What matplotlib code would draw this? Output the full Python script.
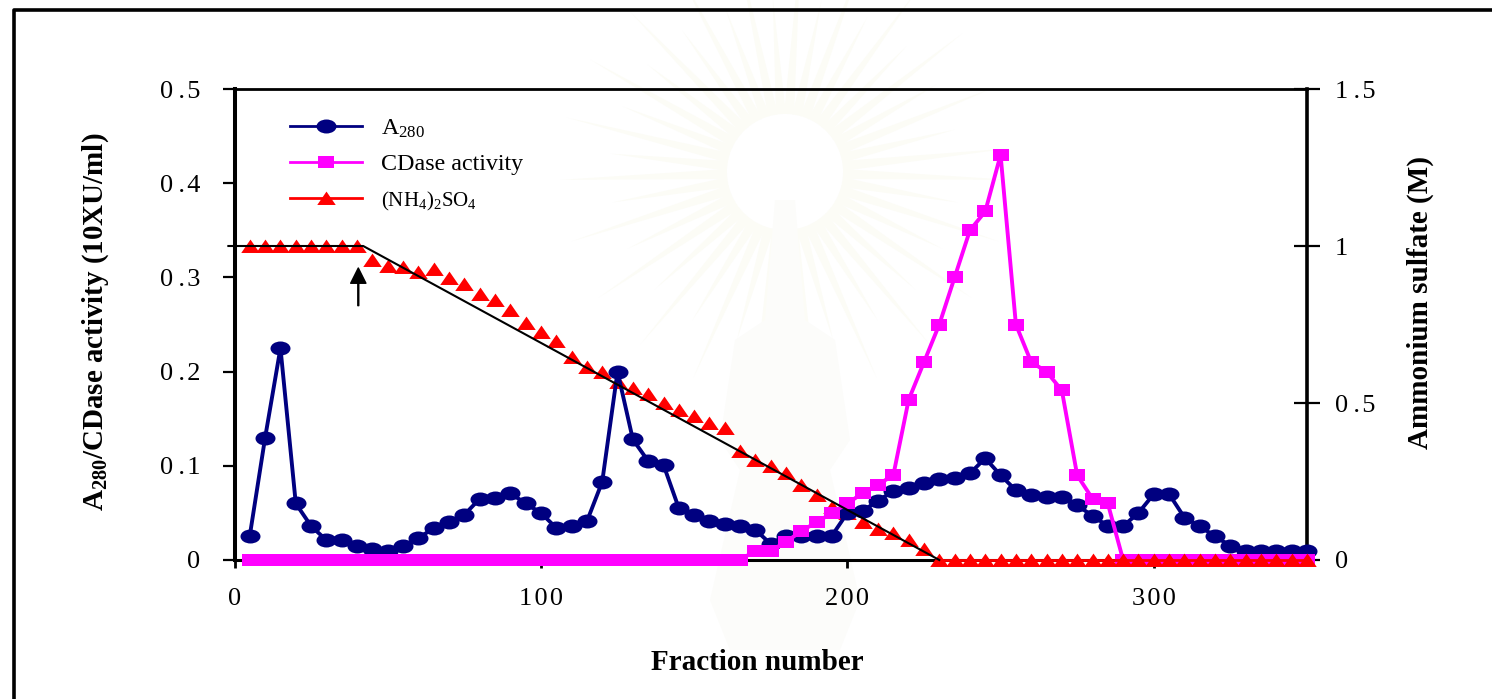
import numpy as np
import matplotlib
matplotlib.use('Agg')
from matplotlib import pyplot as plt
from matplotlib.lines import Line2D
from matplotlib.path import Path
from matplotlib.patches import Polygon
from matplotlib.transforms import IdentityTransform, Affine2D

plt.rcParams['font.family'] = ['Liberation Serif', 'DejaVu Sans']
plt.rcParams['mathtext.fontset'] = 'custom'
plt.rcParams['mathtext.rm'] = 'Liberation Serif'
plt.rcParams['mathtext.bf'] = 'Liberation Serif:bold'

# fraction numbers, one sample every 5 fractions
fraction = list(range(5, 355, 5))

a280 = [0.026, 0.130, 0.225, 0.060, 0.036, 0.021, 0.021, 0.015, 0.012, 0.010,
        0.015, 0.023, 0.034, 0.040, 0.048, 0.065, 0.066, 0.071, 0.060, 0.050,
        0.034, 0.036, 0.041, 0.083, 0.200, 0.128, 0.105, 0.101, 0.055, 0.048,
        0.041, 0.038, 0.036, 0.032, 0.017, 0.026, 0.025, 0.025, 0.026, 0.050,
        0.052, 0.063, 0.073, 0.076, 0.082, 0.086, 0.087, 0.092, 0.108, 0.090,
        0.074, 0.069, 0.067, 0.067, 0.058, 0.047, 0.036, 0.036, 0.050, 0.070,
        0.070, 0.045, 0.036, 0.025, 0.015, 0.010, 0.010, 0.010, 0.010, 0.010]

cdase = [0.0] * 33 + [0.010, 0.010, 0.019, 0.031, 0.040, 0.050, 0.060, 0.071,
                      0.080, 0.090, 0.170, 0.210, 0.250, 0.300, 0.350, 0.370,
                      0.430, 0.250, 0.210, 0.200, 0.180, 0.090, 0.065, 0.060] + [0.0] * 13

# measured ammonium sulfate (right axis)
salt = [1.0, 1.0, 1.0, 1.0, 1.0, 1.0, 1.0, 1.0, 0.955, 0.937,
        0.934, 0.918, 0.927, 0.897, 0.879, 0.847, 0.828, 0.796, 0.755, 0.726,
        0.697, 0.647, 0.615, 0.599, 0.567, 0.548, 0.529, 0.500, 0.478, 0.459,
        0.436, 0.420, 0.347, 0.318, 0.300, 0.277, 0.239, 0.207, 0.169, 0.150,
        0.121, 0.099, 0.086, 0.064, 0.035] + [0.0] * 25

# programmed gradient (black line)
gradient_x = [-2, 42, 230]
gradient_y = [1.0, 1.0, 0.0]

left_ticks = [0, 0.1, 0.2, 0.3, 0.4, 0.5]
left_labels = ['0', '0\u2009.\u200a1', '0\u2009.\u200a2', '0\u2009.\u200a3', '0\u2009.\u200a4', '0\u2009.\u200a5']
right_ticks = [0, 0.5, 1, 1.5]
right_labels = ['0', '0\u2009.\u200a5', '1', '1\u2009.\u200a5']
x_ticks = [0, 100, 200, 300]
x_labels = ['0', '1\u200a0\u200a0', '2\u200a0\u200a0', '3\u200a0\u200a0']

W, H = 1492, 699
px = 72 / 100  # one pixel in points

# markers are stretched sideways in the original
ellipse = Path.unit_circle().transformed(Affine2D().scale(1, 0.7))
box = Path([(-1, -0.75), (1, -0.75), (1, 0.75), (-1, 0.75), (-1, -0.75)], closed=True)
tri = Path([(-1, -0.7), (1, -0.7), (0, 0.75), (-1, -0.7)], closed=True)
NAVY, MAGENTA, RED = '#000080', '#ff00ff', '#ff0000'
style_a = dict(color=NAVY, marker=ellipse, markersize=20 * px, lw=2.8, markeredgewidth=0)
style_c = dict(color=MAGENTA, marker=box, markersize=16.5 * px, lw=2.8, markeredgewidth=0)
style_s = dict(color=RED, marker=tri, markersize=18.5 * px, lw=0, markeredgewidth=0)

fig = plt.figure(figsize=(W / 100, H / 100), dpi=100)

# faint watermark and the open page frame
to_xy = lambda p: [(x, H - y) for x, y in p]
cx, cy = 785, 172
for k, ang in enumerate(np.radians(np.arange(2, 362, 8))):
    r0, r1 = 58, 175 if k % 2 else 225
    d, n = np.array([np.cos(ang), np.sin(ang)]), np.array([-np.sin(ang), np.cos(ang)])
    c = np.array([cx, cy])
    ray = [c + d * r0 - n * 5, c + d * r1, c + d * r0 + n * 5]
    fig.add_artist(Polygon(to_xy(ray), transform=IdentityTransform(), fc='#fcfcf6', ec='none', zorder=-5))
body = [(775, 200), (795, 200), (805, 320), (835, 340), (850, 440), (830, 470), (860, 600),
        (840, 650), (730, 650), (710, 600), (740, 470), (720, 440), (735, 340), (765, 320)]
fig.add_artist(Polygon(to_xy(body), transform=IdentityTransform(), fc='#fcfcfa', ec='none', zorder=-5))
fig.add_artist(Line2D([13.5 / W, 13.5 / W, 1], [0, 1 - 9.5 / H, 1 - 9.5 / H], color='k', lw=2.6))

ax = fig.add_axes([234.5 / W, 1 - 560 / H, (1307 - 234.5) / W, (560 - 89) / H])
ax2 = ax.twinx()
ax.set_zorder(2)
ax2.set_zorder(1)
ax.patch.set_visible(False)
ax2.patch.set_visible(False)

ax.set_xlim(0, 350)
ax.set_ylim(0, 0.5)
ax2.set_ylim(0, 1.5)

fraction = np.array(fraction)
salt = np.array(salt)
early = fraction < 230

# the falling part of the salt series sits under A280, the flat end over CDase
ax2.plot(fraction[early], salt[early], clip_on=False, **style_s)
ax.plot(fraction, a280, clip_on=False, zorder=3, **style_a)
ax.plot(fraction, cdase, clip_on=False, zorder=4, **style_c)
ax.plot(fraction[~early], salt[~early], transform=ax2.transData, clip_on=False, zorder=5, **style_s)
ax.plot(fraction[~early], salt[~early], transform=ax2.transData, color=RED, lw=2, clip_on=False, zorder=5)
ax.plot(gradient_x, gradient_y, transform=ax2.transData, color='k', lw=1.5, clip_on=False, zorder=6)

ax.annotate('', xy=(40.4, 0.31), xytext=(40.4, 0.27),
            arrowprops=dict(width=0.7, headwidth=11, headlength=11, fc='k', ec='k', shrink=0))

ax.set_xticks(x_ticks)
ax.set_xticklabels(x_labels)
ax.set_yticks(left_ticks)
ax.set_yticklabels(left_labels)
ax2.set_yticks(right_ticks)
ax2.set_yticklabels(right_labels)

ax.tick_params(axis='x', direction='out', length=8 * px, width=2, pad=20 * px, labelsize=19)
ax.tick_params(axis='y', direction='out', length=12 * px, width=1.6, pad=22 * px, labelsize=19)
ax2.tick_params(axis='y', direction='inout', length=27 * px, width=1.6, pad=14 * px, labelsize=19)

ax.spines['left'].set_linewidth(2.9)
ax.spines['bottom'].set_linewidth(2.2)
ax.spines['top'].set_linewidth(2.0)
ax.spines['right'].set_visible(False)
ax2.spines['right'].set_linewidth(2.6)
ax2.spines['left'].set_visible(False)
ax2.spines['top'].set_visible(False)
ax2.spines['bottom'].set_visible(False)

ax.set_xlabel('Fraction number', fontsize=21, fontweight='bold')
ax.xaxis.set_label_coords((757 - 234.5) / 1072.5, -(662 - 560) / 471, transform=ax.transAxes)
ax.xaxis.label.set_verticalalignment('center')
ax.set_ylabel(r'$\mathbf{A_{280}}$/CDase activity (10XU/ml)', fontsize=20.9, fontweight='bold')
ax.yaxis.set_label_coords(-(234.5 - 96) / 1072.5, (560 - 322) / 471, transform=ax.transAxes)
ax.yaxis.label.set_verticalalignment('center')
ax2.set_ylabel('Ammonium sulfate (M)', fontsize=21, fontweight='bold')
ax2.yaxis.set_label_coords((1420 - 234.5) / 1072.5, (560 - 302) / 471, transform=ax2.transAxes)
ax2.yaxis.label.set_verticalalignment('center')

handles = [Line2D([], [], **{**style_a, 'lw': 2}),
           Line2D([], [], **{**style_c, 'lw': 2}),
           Line2D([], [], **{**style_s, 'lw': 2})]
names = [r'$\mathregular{A_{280}}$', 'CDase activity',
         r'$\mathregular{(NH_4)_2SO_4}$']
leg = ax.legend(handles, names, loc='upper left', bbox_to_anchor=(0.0515, 0.94), frameon=False,
                fontsize=17.3, handlelength=3, handletextpad=0.8, labelspacing=0.58,
                borderpad=0, borderaxespad=0)
leg.get_texts()[2].set_fontsize(15)

fig.savefig('out.png', dpi=100)
plt.close()
